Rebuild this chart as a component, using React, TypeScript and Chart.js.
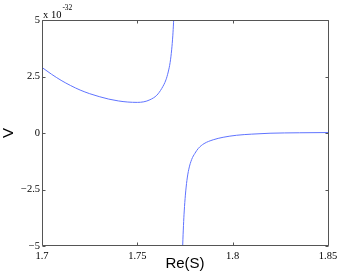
import React, { useEffect, useRef } from "react";
import { Chart, registerables } from "chart.js";

Chart.register(...registerables);

const xTicks = [1.7, 1.75, 1.8, 1.85];
const yTicks = [-5, -2.5, 0, 2.5, 5];
const xTitle = "Re(S)";
const yTitle = "V";
const exponentBase = "x 10";
const exponentPower = "-32";

const leftX = [1.7, 1.705, 1.71, 1.715, 1.72, 1.725, 1.73, 1.735, 1.74, 1.745, 1.75, 1.7534, 1.7566, 1.7602, 1.7628, 1.765, 1.7662, 1.7672, 1.768, 1.7686, 1.769, 1.7693];
const leftY = [2.9, 2.6, 2.33, 2.1, 1.9, 1.74, 1.61, 1.5, 1.42, 1.37, 1.355, 1.38, 1.47, 1.67, 1.97, 2.35, 2.7, 3.12, 3.68, 4.3, 4.9, 5.5];
const rightX = [1.7736, 1.7738, 1.7742, 1.7746, 1.7752, 1.776, 1.777, 1.7785, 1.7802, 1.782, 1.785, 1.7898, 1.795, 1.8021, 1.81, 1.8196, 1.835, 1.85];
const rightY = [-5.5, -4.96, -4.1, -3.45, -2.75, -2.1, -1.6, -1.17, -0.9, -0.68, -0.47, -0.3, -0.19, -0.1, -0.05, -0.01, 0.01, 0.02];

const fmt = (v: number) => (v < 0 ? "\u2212" + String(-v) : String(v));

const boxPlugin = {
  id: "matlabBox",
  afterDatasetsDraw(chart: any) {
    const { ctx, chartArea: a, scales } = chart;
    ctx.save();
    ctx.strokeStyle = "#555";
    ctx.lineWidth = 1;
    const L = Math.round(a.left) + 0.5;
    const R = Math.round(a.right) + 0.5;
    const T = Math.round(a.top) + 0.5;
    const B = Math.round(a.bottom) - 0.5;
    ctx.beginPath();
    ctx.moveTo(L, T);
    ctx.lineTo(R, T);
    ctx.lineTo(R, B);
    ctx.lineTo(L, B);
    ctx.closePath();
    const tl = 3;
    xTicks.forEach((v) => {
      const px = Math.round(scales.x.getPixelForValue(v)) + 0.5;
      ctx.moveTo(px, B);
      ctx.lineTo(px, B - tl);
      ctx.moveTo(px, T);
      ctx.lineTo(px, T + tl);
    });
    yTicks.forEach((v) => {
      const py = Math.round(scales.y.getPixelForValue(v)) + 0.5;
      ctx.moveTo(L, py);
      ctx.lineTo(L + tl, py);
      ctx.moveTo(R, py);
      ctx.lineTo(R - tl, py);
    });
    ctx.stroke();
    ctx.fillStyle = "#000";
    ctx.textAlign = "left";
    ctx.textBaseline = "alphabetic";
    ctx.font = '10.5px "Liberation Serif"';
    const bx = a.left + 1;
    ctx.fillText(exponentBase, bx, a.top - 2);
    const w = ctx.measureText(exponentBase).width;
    ctx.font = '7.5px "Liberation Serif"';
    ctx.fillText(exponentPower, bx + w + 1, a.top - 10.5);
    ctx.restore();
  },
};

export default function App() {
  const ref = useRef<HTMLCanvasElement | null>(null);
  useEffect(() => {
    document.body.style.margin = "0";
    const canvas = ref.current;
    if (!canvas) return;
    const color = "rgb(95,115,255)";
    const chart = new Chart(canvas, {
      type: "line",
      data: {
        datasets: [
          {
            data: leftX.map((x, i) => ({ x, y: leftY[i] })),
            borderColor: color,
            borderWidth: 1,
            pointRadius: 0,
            cubicInterpolationMode: "monotone",
            fill: false,
          },
          {
            data: rightX.map((x, i) => ({ x, y: rightY[i] })),
            borderColor: color,
            borderWidth: 1,
            pointRadius: 0,
            cubicInterpolationMode: "monotone",
            fill: false,
          },
        ],
      },
      options: {
        animation: false,
        responsive: false,
        devicePixelRatio: 1,
        layout: { padding: { top: 20, right: 14, left: 0, bottom: 0 } },
        plugins: { legend: { display: false }, tooltip: { enabled: false } },
        scales: {
          x: {
            type: "linear",
            min: 1.7,
            max: 1.85,
            afterBuildTicks: (s: any) => {
              s.ticks = xTicks.map((v) => ({ value: v }));
            },
            afterFit: (s: any) => {
              s.height = 27;
            },
            grid: { display: false, drawTicks: false },
            border: { display: false },
            ticks: {
              padding: 4,
              color: "#000",
              maxRotation: 0,
              autoSkip: false,
              font: { family: '"Liberation Serif"', size: 10.5 },
              callback: (v: any) => fmt(Number(v)),
            },
            title: {
              display: true,
              text: xTitle,
              color: "#000",
              padding: { top: 0, bottom: 0 },
              font: { family: '"Liberation Sans"', size: 15 },
            },
          },
          y: {
            type: "linear",
            min: -5,
            max: 5,
            afterBuildTicks: (s: any) => {
              s.ticks = yTicks.map((v) => ({ value: v }));
            },
            afterFit: (s: any) => {
              s.width = 42;
            },
            grid: { display: false, drawTicks: false },
            border: { display: false },
            ticks: {
              padding: 2,
              color: "#000",
              autoSkip: false,
              font: { family: '"Liberation Serif"', size: 10.5 },
              callback: (v: any) => fmt(Number(v)),
            },
            title: {
              display: true,
              text: yTitle,
              color: "#000",
              padding: { top: 0, bottom: 0 },
              font: { family: '"Liberation Sans"', size: 15 },
            },
          },
        },
      },
      plugins: [boxPlugin],
    } as any);
    return () => chart.destroy();
  }, []);
  return (
    <div style={{ position: "absolute", left: 0, top: 0, width: 342, height: 273, background: "#fff" }}>
      <canvas ref={ref} width={342} height={273} style={{ display: "block" }} />
    </div>
  );
}
